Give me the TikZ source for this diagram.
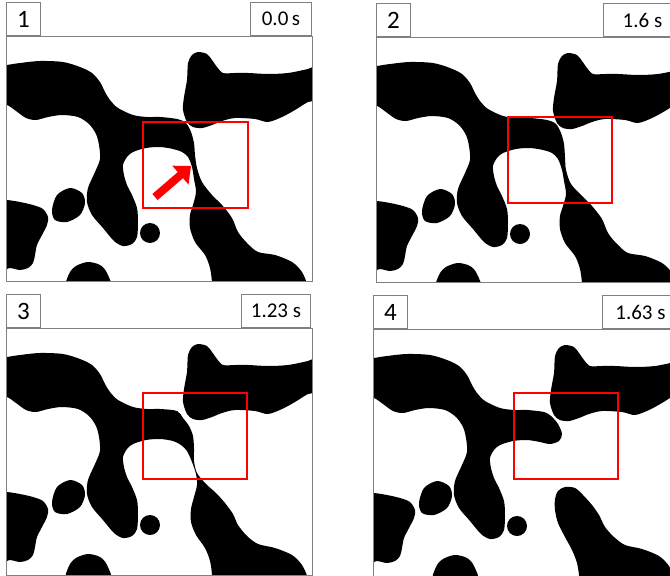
\documentclass[tikz,border=0pt]{standalone}
\usepackage{fontspec}
\setmainfont{Carlito}
\usetikzlibrary{arrows.meta}
\definecolor{framegray}{RGB}{128,128,128}
\definecolor{markred}{RGB}{255,0,0}

% droplets that do not change between frames
\newcommand{\drops}{%
  \fill[ink] plot[smooth cycle] coordinates {(192,16) (186,19) (182,27) (181,44) (178,61) (177,74) (181,86) (187,91) (196,92) (206,89) (216,85) (229,82) (249,83) (262,86) (276,81) (289,74) (302,66) (314,62) (314,30) (302,33) (282,37) (262,38) (242,37) (229,37) (217,37) (211,31) (206,24) (201,18)};
  \fill[ink] plot[smooth cycle] coordinates {(-10,164) (1,164) (14,166) (27,169) (37,173) (42,181) (41,189) (36,199) (31,209) (29,219) (27,227) (22,232) (14,234) (4,232) (-10,232)};
  \fill[ink] plot[smooth cycle] coordinates {(46,174) (51,159) (64,152) (76,157) (79,167) (74,179) (61,186) (49,184)};
  \fill[ink] (144,197) circle (10);
  \fill[ink] plot[smooth cycle] coordinates {(62,252) (63,238) (70,230) (82,226) (94,229) (101,237) (103,252)};
}
% band and leg; #1 = stretch from the band top round the neck back to the hole
\newcommand{\bandpath}[1]{%
  \fill[ink] plot[smooth cycle] coordinates {(-10,31) (1,29) (14,27) (34,25) (57,26) (74,31) (86,37) (94,46) (99,56) (104,64) (112,72) (127,79) (141,81) (154,81) (171,83) #1 (154,111) (140,112) (127,116) (121,121) (117,129) (118,139) (121,149) (126,159) (131,172) (132,186) (131,201) (126,208) (117,210) (108,205) (97,192) (86,179) (81,166) (82,152) (89,136) (94,123) (93,109) (90,98) (83,88) (72,81) (56,79) (42,81) (30,84) (20,82) (10,75) (1,69) (-10,68)};%
}

\begin{document}
\begin{tikzpicture}[
  x=1pt, y=-1pt,
  ink/.style={fill=black},
  panelframe/.style={draw=framegray, line width=1pt},
  zoombox/.style={draw=markred, line width=2pt},
  pointer/.style={markred, line width=8pt, -{Triangle[length=14pt,width=24pt]}},
  numbox/.style={draw=framegray, line width=1pt, fill=white, inner sep=0pt,
    minimum width=34pt, minimum height=33pt, anchor=south west,
    font=\fontsize{25}{25}\selectfont},
  timebox/.style={draw=framegray, line width=1pt, fill=white, inner sep=0pt,
    minimum height=33pt, anchor=south east, font=\fontsize{21}{21}\selectfont}
]
\useasboundingbox (0,0) rectangle (670,576);
\clip (0,0) rectangle (670,576);
% ---------------- frame 1
\begin{scope}[shift={(6,36)}]
  \begin{scope}
    \clip (0,0) rectangle (306,245);
    \drops
    \bandpath{(180,87) (185,96) (188,107) (189,119) (191,132) (196,146) (206,159) (216,169) (226,182) (232,196) (241,207) (252,216) (269,219) (286,226) (296,236) (302,250) (306,262) (204,262) (206,248) (204,232) (199,219) (189,206) (184,192) (184,179) (187,169) (190,156) (188,143) (186,131) (182,121) (176,116) (167,113)}
  \end{scope}
  \draw[panelframe] (0,0) rectangle (306,245);
  \draw[zoombox] (137,86) rectangle (242,172);
  \draw[pointer] (149,161) -- (185,130);
  \node[numbox] (n1) at (0,0) {1};
  \node[timebox, minimum width=61pt] (t1) at (306,0) {0.0\,s};
\end{scope}
% ---------------- frame 2
\begin{scope}[shift={(376,37)}]
  \begin{scope}
    \clip (0,0) rectangle (306,245);
    \drops
    \bandpath{(180,87) (185,96) (188,107) (189,120) (190,133) (195,147) (206,159) (216,169) (226,182) (232,196) (241,207) (252,216) (269,219) (286,226) (296,236) (302,250) (306,262) (204,262) (206,248) (204,232) (199,219) (189,206) (184,192) (184,179) (187,169) (190,157) (188,144) (186,133) (182,122) (176,116) (167,113)}
  \end{scope}
  \draw[panelframe] (0,0) rectangle (306,245);
  \draw[zoombox] (132,80) rectangle (236,166);
  \node[numbox] (n2) at (0,0) {2};
  \node[timebox, minimum width=78pt] (t2) at (306,0) {1.6 s};
\end{scope}
% ---------------- frame 3
\begin{scope}[shift={(6,328)}]
  \begin{scope}
    \clip (0,0) rectangle (306,247);
    \drops
    \bandpath{(177,90) (183,98) (187,108) (188,121) (188,133) (191,145) (200,156) (210,165) (219,175) (227,186) (232,197) (241,208) (252,216) (269,220) (286,227) (296,237) (302,250) (306,262) (204,262) (206,248) (204,233) (199,220) (190,207) (185,194) (185,181) (188,169) (191,157) (190,146) (186,134) (181,123) (175,117) (167,113)}
  \end{scope}
  \draw[panelframe] (0,0) rectangle (306,247);
  \draw[zoombox] (137,65) rectangle (241,151);
  \node[numbox] (n3) at (0,0) {3};
  \node[timebox, minimum width=69pt] (t3) at (305,0) {1.23 s};
\end{scope}
% ---------------- frame 4: neck broken
\begin{scope}[shift={(373,329)}]
  \begin{scope}
    \clip (0,0) rectangle (306,247);
    \drops
    \bandpath{(178,87) (185,95) (189,105) (186,112) (177,115) (167,113)}
    \fill[ink] plot[smooth cycle] coordinates {(185,162) (192,158) (202,159) (210,166) (219,176) (226,186) (232,198) (241,208) (252,216) (269,220) (286,227) (296,237) (302,250) (306,262) (204,262) (206,248) (204,234) (199,221) (192,208) (185,194) (182,181) (182,170)};
  \end{scope}
  \draw[panelframe] (0,0) rectangle (306,247);
  \draw[zoombox] (141,64) rectangle (245,150);
  \node[numbox] (n4) at (0,0) {4};
  \node[timebox, minimum width=76pt] (t4) at (306,0) {1.63 s};
\end{scope}
\end{tikzpicture}
\end{document}
